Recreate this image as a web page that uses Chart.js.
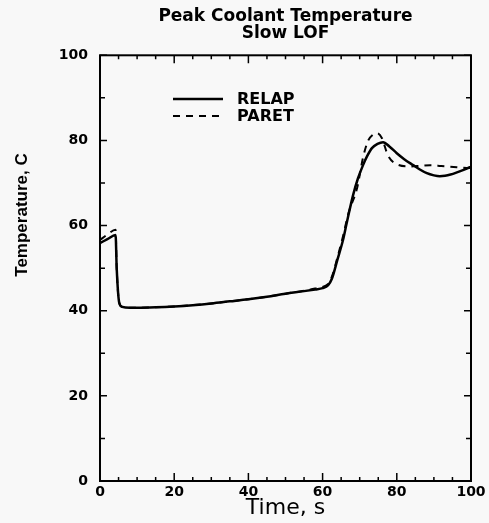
<!DOCTYPE html>
<html><head><meta charset="utf-8">
<script src="https://cdn.jsdelivr.net/npm/chart.js@4/dist/chart.umd.min.js"></script>
<style>html,body{margin:0;padding:0;background:#f8f8f8;} canvas{display:block;}</style>
</head><body>
<canvas id="c" width="489" height="523"></canvas>
<script>
const titleLines = ['Peak Coolant Temperature', 'Slow LOF'];
const xTitle = 'Time, s';
const yTitle = 'Temperature, C';
const seriesNames = ['RELAP', 'PARET'];
const xTickStep = 20;
const yTickStep = 20;

const relapTime = [0, 2, 4.2, 4.5, 5.2, 6, 8, 10, 15, 20, 25, 30, 35, 40, 45, 50, 55, 58, 60, 61.5, 62.5, 64, 65.5, 66.5, 68.2, 69.5, 70.9, 72, 73.3, 74.8, 76.3, 78, 80, 82, 84.4, 86, 88.1, 90, 91.6, 93, 94.5, 96.2, 98, 99.7, 100];
const relapTemp = [55.9, 56.8, 57.8, 50, 41.8, 40.9, 40.7, 40.7, 40.8, 41.0, 41.3, 41.7, 42.2, 42.7, 43.3, 44.0, 44.6, 45.0, 45.3, 46.0, 47.5, 52, 56.6, 60.6, 67.1, 71, 74.2, 76.3, 78.2, 79.2, 79.6, 78.6, 77, 75.6, 74.2, 73.3, 72.3, 71.8, 71.6, 71.7, 72, 72.5, 73.1, 73.7, 73.8];

const paretTime = [0, 2, 4.2, 4.5, 5.2, 6, 8, 10, 15, 20, 25, 30, 35, 40, 45, 50, 55, 58, 60, 61.5, 62.5, 64, 65.5, 67, 69.3, 70.9, 72.3, 73.5, 74.7, 76, 77.6, 80, 83.6, 86, 89, 92, 96.2, 99.7, 100];
const paretTemp = [56.6, 57.9, 59.0, 50, 41.8, 40.9, 40.7, 40.7, 40.8, 41.0, 41.3, 41.7, 42.2, 42.7, 43.3, 44.0, 44.7, 45.2, 45.6, 46.3, 48, 52.5, 57.5, 63, 68.8, 76, 80, 81.3, 81.7, 80.5, 76.5, 74.4, 73.9, 74.0, 74.2, 74.0, 73.7, 73.5, 73.5];

const toPts = (ts, vs) => ts.map((t, i) => ({x: t, y: vs[i]}));

const framePlugin = {
  id: 'frame',
  afterDatasetsDraw(chart) {
    const {ctx, chartArea: a, scales: {x, y}} = chart;
    ctx.save();
    ctx.strokeStyle = '#000';
    ctx.lineWidth = 2;
    ctx.strokeRect(a.left, a.top, a.right - a.left, a.bottom - a.top);
    ctx.lineWidth = 1.5;
    ctx.beginPath();
    for (let v = x.min; v <= x.max; v += 5) {
      const px = x.getPixelForValue(v);
      const L = v % 20 === 0 ? 8 : 4;
      ctx.moveTo(px, a.bottom); ctx.lineTo(px, a.bottom - L);
      ctx.moveTo(px, a.top); ctx.lineTo(px, a.top + L);
    }
    for (let v = y.min; v <= y.max; v += 10) {
      const py = y.getPixelForValue(v);
      const L = v % 20 === 0 ? 7 : 5;
      ctx.moveTo(a.left, py); ctx.lineTo(a.left + L, py);
      ctx.moveTo(a.right, py); ctx.lineTo(a.right - L, py);
    }
    ctx.stroke();
    ctx.restore();
  }
};

const legendPlugin = {
  id: 'inlegend',
  afterDraw(chart) {
    const {ctx} = chart;
    const ds = chart.data.datasets;
    ctx.save();
    ctx.font = 'bold 16px "DejaVu Sans"';
    ctx.fillStyle = '#000';
    ctx.textBaseline = 'middle';
    ds.forEach((d, i) => {
      const yy = 99 + i * 17;
      ctx.strokeStyle = '#000';
      ctx.lineWidth = d.borderWidth;
      ctx.setLineDash(d.borderDash || []);
      ctx.beginPath();
      ctx.moveTo(173, yy); ctx.lineTo(223, yy);
      ctx.stroke();
      ctx.setLineDash([]);
      ctx.fillText(d.label, 237, yy + 1);
    });
    ctx.restore();
  }
};

const yTitlePlugin = {
  id: 'ytitle',
  afterDraw(chart) {
    const {ctx} = chart;
    ctx.save();
    ctx.translate(22, 215);
    ctx.rotate(-Math.PI / 2);
    ctx.font = 'bold 17px "Liberation Sans"';
    ctx.fillStyle = '#000';
    ctx.textAlign = 'center';
    ctx.textBaseline = 'middle';
    ctx.fillText(yTitle, 0, 0);
    ctx.restore();
  }
};

new Chart(document.getElementById('c'), {
  type: 'line',
  data: {
    datasets: [
      {label: seriesNames[0], data: toPts(relapTime, relapTemp), borderColor: '#000', borderWidth: 2.5, pointRadius: 0, cubicInterpolationMode: 'monotone', fill: false},
      {label: seriesNames[1], data: toPts(paretTime, paretTemp), borderColor: '#000', borderWidth: 2, borderDash: [7, 6], pointRadius: 0, cubicInterpolationMode: 'monotone', fill: false}
    ]
  },
  options: {
    responsive: false,
    devicePixelRatio: 1,
    animation: false,
    layout: {padding: {left: 0, right: 18, top: 0, bottom: 0}},
    plugins: {
      legend: {display: false},
      tooltip: {enabled: false},
      title: {
        display: true, text: titleLines, color: '#000', fullSize: false,
        font: {family: 'DejaVu Sans', size: 17, weight: 'bold', lineHeight: 0.95},
        padding: {top: 9, bottom: 14}
      }
    },
    scales: {
      x: {
        type: 'linear', min: 0, max: 100,
        afterFit(s) { s.height = 42; },
        grid: {display: false, drawTicks: false},
        border: {display: false},
        ticks: {stepSize: xTickStep, maxRotation: 0, padding: 3, color: '#000', font: {family: 'DejaVu Sans', size: 14, weight: 'bold'}},
        title: {display: true, text: xTitle, color: '#000', font: {family: 'DejaVu Sans', size: 22}, padding: {top: 0, bottom: 2}}
      },
      y: {
        type: 'linear', min: 0, max: 100,
        afterFit(s) { s.width = 100; },
        grid: {display: false, drawTicks: false},
        border: {display: false},
        ticks: {stepSize: yTickStep, padding: 12, color: '#000', font: {family: 'DejaVu Sans', size: 14, weight: 'bold'}}
      }
    }
  },
  plugins: [framePlugin, legendPlugin, yTitlePlugin]
});
</script>
</body></html>
